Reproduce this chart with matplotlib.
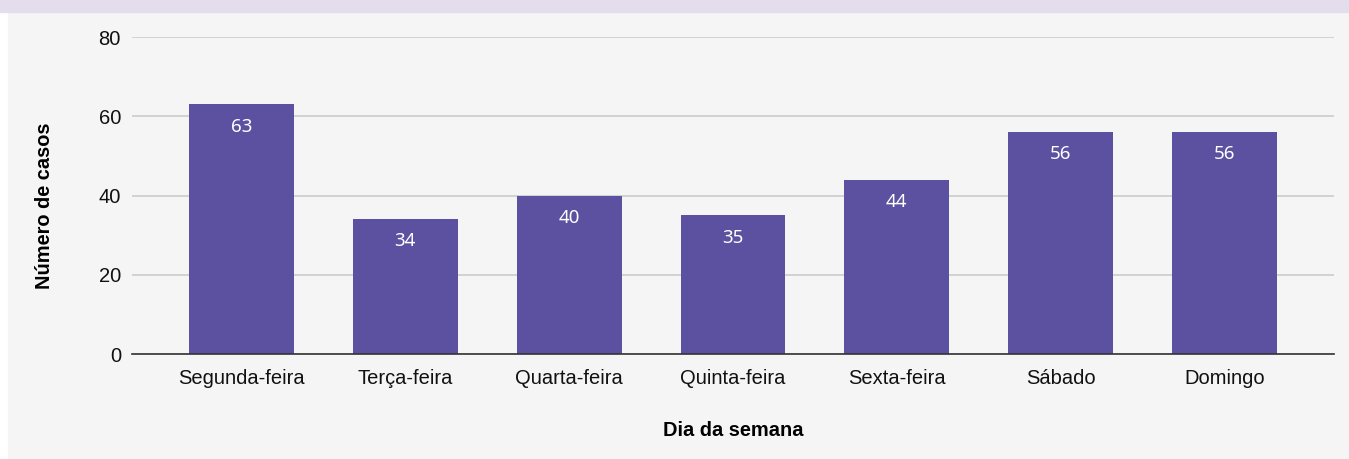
import matplotlib.pyplot as plt
from matplotlib.patches import Rectangle

# Data
dias = ['Segunda-feira', 'Terça-feira', 'Quarta-feira', 'Quinta-feira',
        'Sexta-feira', 'Sábado', 'Domingo']
casos = [63, 34, 40, 35, 44, 56, 56]

bar_color = '#5c51a0'
bg = '#f5f5f5'

fig = plt.figure(figsize=(13.49, 4.59), dpi=100)
fig.patch.set_facecolor('white')
# gray card + lavender band on top
fig.add_artist(Rectangle((8 / 1349, 0), 1 - 8 / 1349, 1 - 12 / 459,
                         transform=fig.transFigure, color=bg, zorder=-2))
fig.add_artist(Rectangle((0, 1 - 12 / 459), 1, 12 / 459,
                         transform=fig.transFigure, color='#e4ddee', zorder=-2))

ax = fig.add_axes([132 / 1349, 1 - 354 / 459, 1202 / 1349, 317 / 459])
ax.set_facecolor(bg)
ax.patch.set_alpha(0)

x = range(len(dias))
bars = ax.bar(x, casos, width=0.64, color=bar_color, zorder=3)

for b, v in zip(bars, casos):
    ax.text(b.get_x() + b.get_width() / 2, v - 5.6, str(v), ha='center', va='center',
            color='white', fontsize=13.5, family='Noto Sans', zorder=4)

ax.set_xlim(-0.668, 6.668)
ax.set_ylim(0, 80)
ax.set_yticks([0, 20, 40, 60, 80])
ax.set_xticks(list(x))
ax.set_xticklabels(dias)
ax.tick_params(axis='both', length=0, labelsize=14.5, colors='#111111')
ax.tick_params(axis='y', pad=8)
ax.tick_params(axis='x', pad=10.5)
for lab in ax.get_xticklabels() + ax.get_yticklabels():
    lab.set_family('Liberation Sans')

ax.grid(axis='y', color='#cccccc', linewidth=1.2, zorder=0)
for s in ['top', 'right', 'left']:
    ax.spines[s].set_visible(False)
ax.spines['bottom'].set_color('#333333')
ax.spines['bottom'].set_linewidth(1.2)
ax.spines['bottom'].set_zorder(5)

fig.text(733 / 1349, 1 - 430 / 459, 'Dia da semana', ha='center', va='center',
         fontsize=14.4, fontweight='bold', family='Liberation Sans')
fig.text(45 / 1349, 1 - 206 / 459, 'Número de casos', ha='center', va='center',
         rotation=90, fontsize=14.4, fontweight='bold', family='Liberation Sans')

fig.savefig('out.png', dpi=100, facecolor=fig.get_facecolor())
